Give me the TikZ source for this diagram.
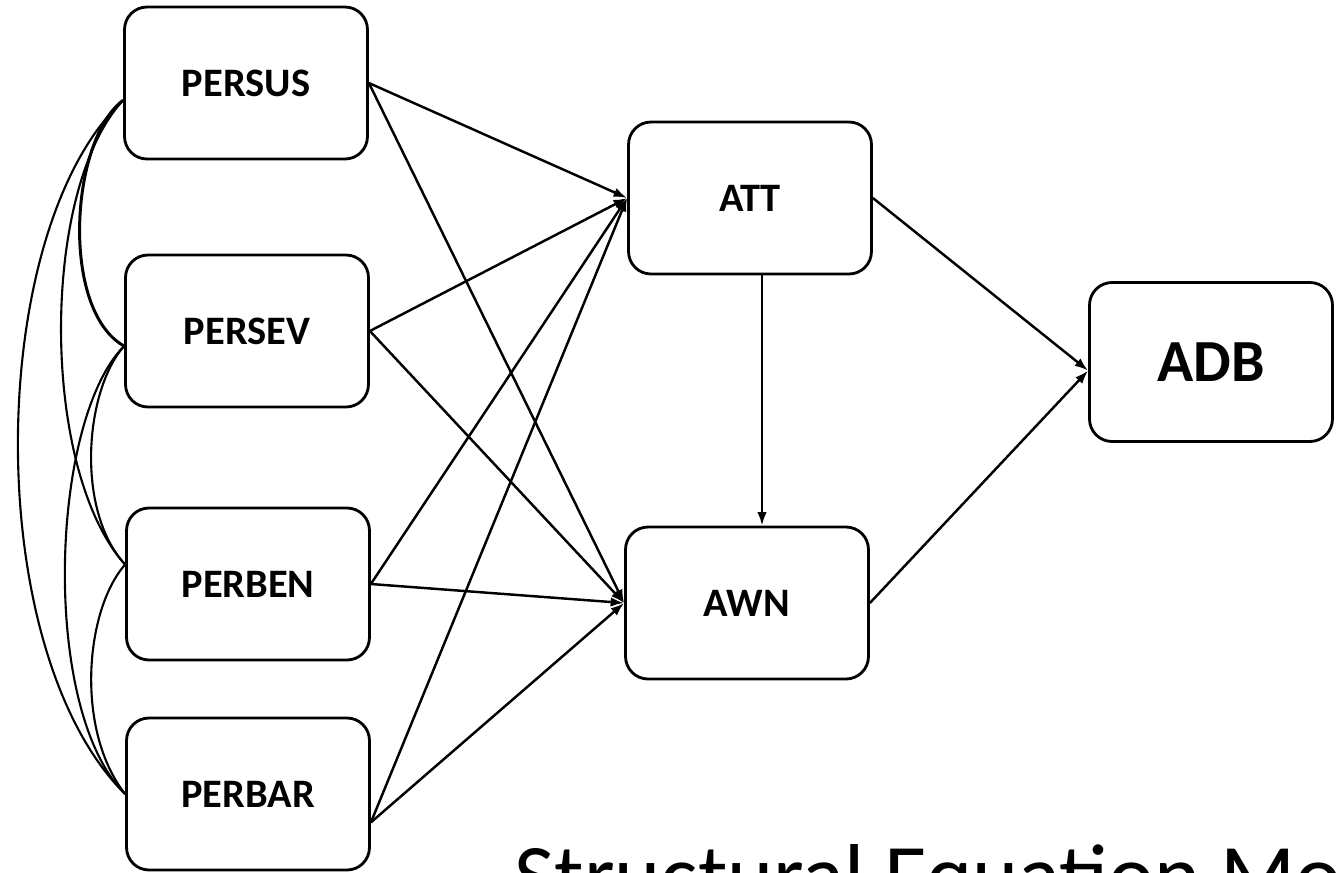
\documentclass[tikz,border=0pt]{standalone}
\usepackage{fontspec}
\setmainfont{Carlito}
\usetikzlibrary{arrows.meta,calc}

\tikzset{
  var/.style={draw, line width=1.6pt, rounded corners=0.45cm, minimum width=4.86cm,
    minimum height=3.04cm, inner sep=0pt, font=\bfseries\fontsize{23}{27}\selectfont},
  effect/.style={line width=1.4pt, -{Latex[length=0.27cm,width=0.19cm]}},
  cov/.style={line width=1.2pt},
}

\begin{document}
\begin{tikzpicture}[x=0.02cm, y=-0.02cm, every text node part/.style={align=center}, text=black]
	\clip (0,0) rectangle (1340,873);

	% exogenous variables
	\node[var] (persus) at (246,83) {PERSUS};
	\node[var] (persev) at (247,331) {PERSEV};
	\node[var] (perben) at (248,584) {PERBEN};
	\node[var] (perbar) at (248,794) {PERBAR};

	% mediators and outcome
	\node[var] (att) at (750,198) {ATT};
	\node[var] (awn) at (747,603) {AWN};
	\node[var, minimum height=3.18cm, font=\bfseries\fontsize{34}{40}\selectfont] (adb) at (1211,362) {ADB};

	% covariances
	\draw[cov, line width=1.7pt] (persus.188) .. controls (70,140) and (60,310) .. (persev.187);
	\draw[cov] (persus.188) .. controls (40,190) and (40,470) .. (perben.171);
	\draw[cov] (persus.188) .. controls (-15,230) and (-20,650) .. (perbar.west);
	\draw[cov] (persev.187) .. controls (85,390) and (75,510) .. (perben.171);
	\draw[cov] (persev.187) .. controls (50,420) and (40,710) .. (perbar.west);
	\draw[cov] (perben.171) .. controls (85,610) and (75,730) .. (perbar.west);

	% paths
	\draw[effect] (persus.east) -- (att.west);
	\draw[effect] (persus.east) -- (awn.west);
	\draw[effect] (persev.east) -- (att.west);
	\draw[effect] (persev.east) -- (awn.west);
	\draw[effect] (perben.east) -- (att.west);
	\draw[effect] (perben.east) -- (awn.west);
	\draw[effect] (perbar.347) -- (att.west);
	\draw[effect] (perbar.347) -- (awn.west);
	\draw[effect] ([xshift=0.24cm]att.south) -- ([xshift=0.24cm]att.south |- awn.north);
	\draw[effect] (att.east) -- (adb.184);
	\draw[effect] (awn.east) -- (adb.184);

	% caption
	\node[anchor=base west, inner sep=0pt, font=\fontsize{50}{56}\selectfont] (title) at (514,905) {Structural Equation Modeling};
\end{tikzpicture}
\end{document}
